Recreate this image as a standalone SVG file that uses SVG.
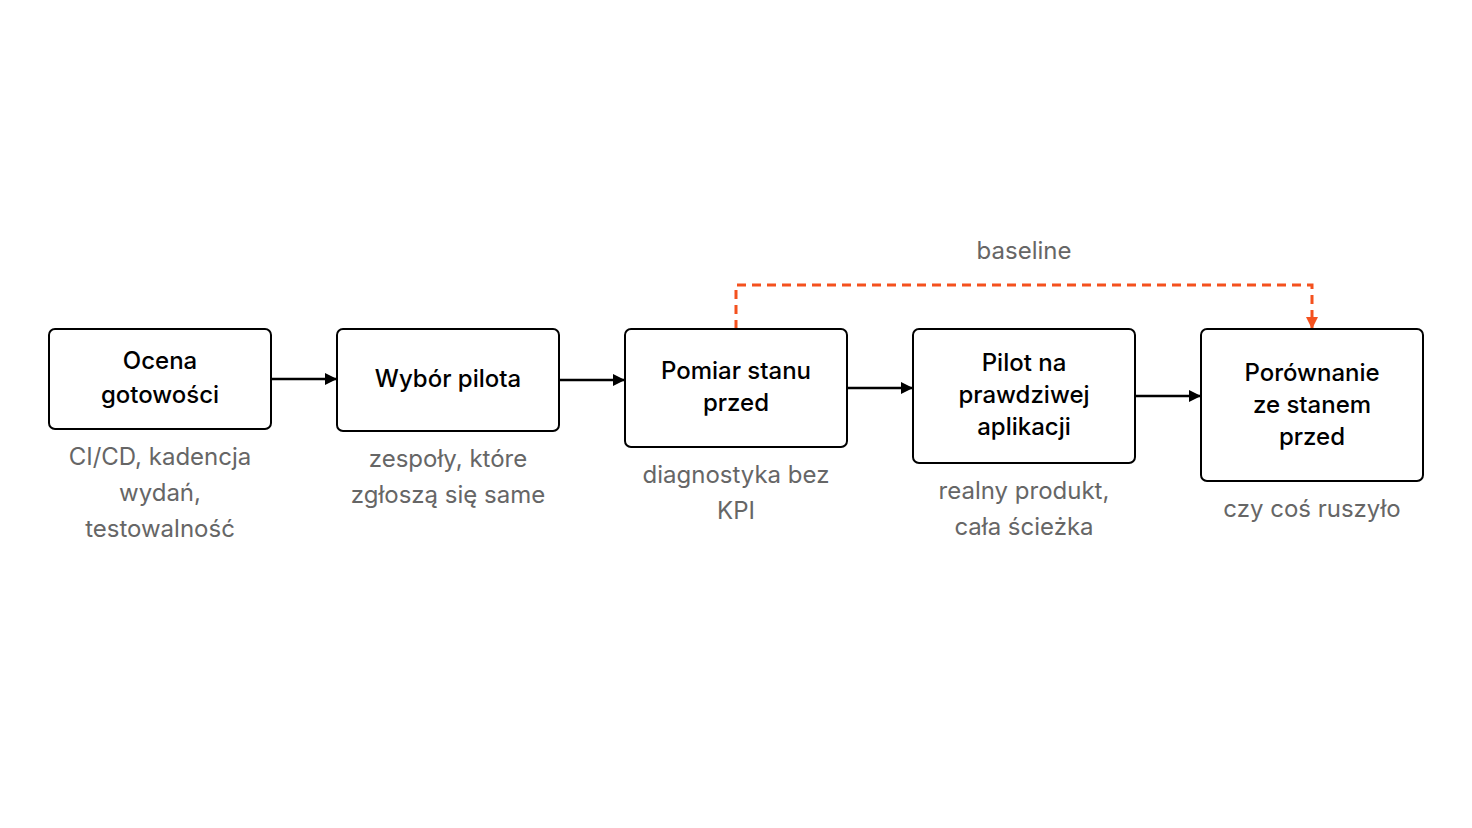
<svg xmlns="http://www.w3.org/2000/svg" width="1472" height="828" viewBox="0 0 1472 828">
<defs>
<marker id="ah" viewBox="0 0 10 10" refX="10" refY="5" markerWidth="12" markerHeight="12" markerUnits="userSpaceOnUse" orient="auto"><path d="M0,0L10,5L0,10z" fill="#000"/></marker>
<marker id="ao" viewBox="0 0 10 10" refX="10" refY="5" markerWidth="12" markerHeight="12" markerUnits="userSpaceOnUse" orient="auto"><path d="M0,0L10,5L0,10z" fill="#f4511e"/></marker>
</defs>
<style>
.b{fill:#fff;stroke:#000;stroke-width:2}
.t{font-family:Inter,"Noto Sans",sans-serif;font-size:24px;fill:#000;text-anchor:middle;font-weight:500}
.s{font-family:Inter,"Noto Sans",sans-serif;font-size:24px;fill:#666;text-anchor:middle}
.c{stroke:#000;stroke-width:2.5;fill:none;marker-end:url(#ah)}
</style>
<rect width="1472" height="828" fill="#fff"/>
<g id="connectors">
<line class="c" x1="271" y1="379" x2="337" y2="379"/>
<line class="c" x1="559" y1="380" x2="625" y2="380"/>
<line class="c" x1="847" y1="388" x2="913" y2="388"/>
<line class="c" x1="1135" y1="396" x2="1201" y2="396"/>
<path d="M736,329V285H1312V329" fill="none" stroke="#f4511e" stroke-width="3" stroke-dasharray="9,6" marker-end="url(#ao)"/>
<text class="s" x="1024" y="259">baseline</text>
</g>
<g id="n1"><rect class="b" x="49" y="329" width="222" height="100" rx="6"/>
<text class="t" x="160" y="369">Ocena</text><text class="t" x="160" y="403">gotowości</text>
<text class="s" x="160" y="465">CI/CD, kadencja</text><text class="s" x="160" y="501">wydań,</text><text class="s" x="160" y="537">testowalność</text></g>
<g id="n2"><rect class="b" x="337" y="329" width="222" height="102" rx="6"/>
<text class="t" x="448" y="387">Wybór pilota</text>
<text class="s" x="448" y="467">zespoły, które</text><text class="s" x="448" y="503">zgłoszą się same</text></g>
<g id="n3"><rect class="b" x="625" y="329" width="222" height="118" rx="6"/>
<text class="t" x="736" y="379">Pomiar stanu</text><text class="t" x="736" y="411">przed</text>
<text class="s" x="736" y="483">diagnostyka bez</text><text class="s" x="736" y="519">KPI</text></g>
<g id="n4"><rect class="b" x="913" y="329" width="222" height="134" rx="6"/>
<text class="t" x="1024" y="371">Pilot na</text><text class="t" x="1024" y="403">prawdziwej</text><text class="t" x="1024" y="435">aplikacji</text>
<text class="s" x="1024" y="499">realny produkt,</text><text class="s" x="1024" y="535">cała ścieżka</text></g>
<g id="n5"><rect class="b" x="1201" y="329" width="222" height="152" rx="6"/>
<text class="t" x="1312" y="381">Porównanie</text><text class="t" x="1312" y="413">ze stanem</text><text class="t" x="1312" y="445">przed</text>
<text class="s" x="1312" y="517">czy coś ruszyło</text></g>
</svg>
